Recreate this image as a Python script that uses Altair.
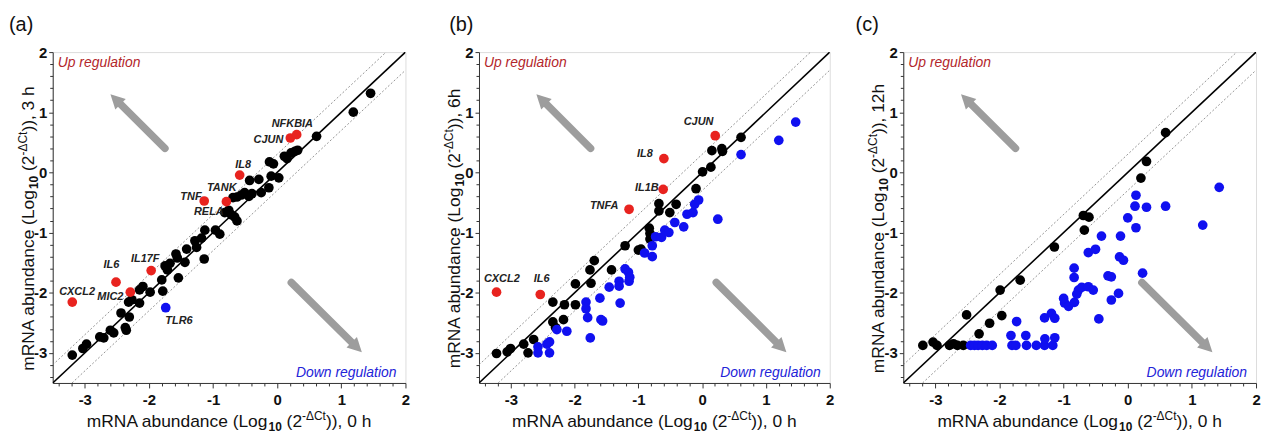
import math
import altair as alt
import pandas as pd

FONT = "Liberation Sans"

# ---------------- data ----------------
PANEL_TAGS = ["(a)", "(b)", "(c)"]
Y_TIMES = ["3 h", "6h", "12h"]
X_TIME = "0 h"

# Panel (a): 0 h (x) vs 3 h (y)
a_black_x = [-3.195, -3.03, -2.973, -2.766, -2.704, -2.601, -2.549, -2.368, -2.353, -2.435,
             -2.306, -2.317, -2.265, -2.146, -2.146, -2.094, -1.981, -1.784, -1.80, -1.541,
             -1.712, -1.748, -1.671, -1.578, -1.557, -1.438, -1.412, -1.283, -1.257, -1.18,
             -1.128, -1.138, -0.963, -0.895, -0.818, -0.756, -0.714, -0.663, -0.627, -0.689,
             -0.627, -0.559, -0.508, -0.441, -0.394, -0.43, -0.286, -0.249, -0.13, -0.094,
             -0.12, -0.058, 0.025, 0.112, 0.154, 0.216, 0.278, 0.319, 0.614, 1.187,
             1.456]
a_black_y = [-3.037, -2.927, -2.855, -2.734, -2.751, -2.624, -2.668, -2.58, -2.624, -2.337,
             -2.404, -2.156, -2.117, -2.172, -1.952, -1.897, -1.99, -1.974, -1.787, -1.753,
             -1.621, -1.555, -1.511, -1.357, -1.423, -1.494, -1.274, -1.136, -1.247, -1.092,
             -0.96, -1.439, -0.96, -1.026, -0.668, -0.629, -0.707, -0.74, -0.806, -0.42,
             -0.409, -0.376, -0.337, -0.398, -0.354, -0.134, -0.117, -0.337, -0.255, -0.062,
             0.175, 0.142, -0.09, 0.269, 0.23, 0.324, 0.351, 0.368, 0.599, 1.001,
             1.315]
a_red_gene = ["CXCL2", "IL6", "MIC2", "IL17F", "TNF", "TANK", "IL8", "CJUN", "NFKBIA"]
a_red_x = [-3.195, -2.513, -2.29, -1.965, -1.138, -0.792, -0.585, 0.205, 0.304]
a_red_y = [-2.156, -1.825, -1.99, -1.632, -0.475, -0.486, -0.045, 0.572, 0.627]
a_blue_gene = ["TLR6"]
a_blue_x = [-1.738]
a_blue_y = [-2.249]
a_label_gene = ["NFKBIA", "CJUN", "IL8", "TANK", "TNF", "RELA", "IL17F", "IL6", "CXCL2", "MIC2", "TLR6"]
a_label_x = [0.236, -0.136, -0.531, -0.864, -1.345, -1.066, -2.058, -2.585, -3.12, -2.601, -1.531]
a_label_y = [0.798, 0.533, 0.12, -0.26, -0.409, -0.657, -1.434, -1.533, -1.996, -2.079, -2.475]

# Panel (b): 0 h (x) vs 6 h (y)
b_black_x = [-3.225, -3.058, -3.006, -2.799, -2.731, -2.643, -2.342, -2.3, -2.175, -2.342,
             -2.16, -1.988, -1.988, -1.744, -1.76, -1.692, -1.422, -1.209, -1.001, -0.96,
             -0.83, -0.819, -0.819, -0.679, -0.679, -0.508, -0.409, -0.097, 0.006, 0.136,
             0.152, 0.308, 0.318, 0.609]
b_black_y = [-3.01, -2.982, -2.927, -2.855, -2.999, -2.778, -2.486, -2.58, -2.448, -2.156,
             -2.2, -2.2, -1.853, -1.842, -1.621, -1.467, -1.621, -1.219, -1.291, -1.274,
             -0.927, -1.015, -1.109, -0.519, -0.64, -0.668, -0.53, -0.271, 0.01, 0.087,
             0.362, 0.395, 0.351, 0.583]
b_blue_x = [-2.575, -2.575, -2.435, -2.394, -2.394, -2.279, -2.123, -1.822, -1.822, -1.796,
            -1.755, -1.604, -1.588, -1.562, -1.458, -1.303, -1.303, -1.287, -1.209, -1.157,
            -1.136, -1.147, -0.903, -0.783, -0.783, -0.731, -0.638, -0.586, -0.523, -0.43,
            -0.29, -0.238, -0.144, -0.118, -0.056, 0.245, 0.609, 1.201, 1.466]
b_blue_y = [-2.899, -2.999, -2.855, -2.999, -2.817, -2.613, -2.64, -2.156, -2.266, -2.415,
            -2.751, -2.09, -2.448, -2.47, -1.908, -1.809, -1.891, -2.172, -1.605, -1.66,
            -1.742, -1.809, -1.34, -1.219, -1.401, -1.07, -1.081, -0.96, -0.999, -0.833,
            -0.905, -0.696, -0.668, -0.53, -0.459, -0.778, 0.296, 0.533, 0.836]
b_red_gene = ["CXCL2", "IL6", "TNFA", "IL1B", "IL8", "CJUN"]
b_red_x = [-3.225, -2.539, -1.147, -0.612, -0.601, 0.204]
b_red_y = [-1.99, -2.029, -0.613, -0.282, 0.23, 0.61]
b_label_gene = ["CJUN", "IL8", "IL1B", "TNFA", "CXCL2", "IL6"]
b_label_x = [-0.057, -0.898, -0.867, -1.537, -3.142, -2.518]
b_label_y = [0.831, 0.302, -0.26, -0.558, -1.764, -1.764]

# Panel (c): 0 h (x) vs 12 h (y)
c_black_x = [-3.195, -3.036, -2.974, -2.779, -2.718, -2.656, -2.564, -2.513, -2.318, -2.154,
             -1.964, -1.99, -1.677, -1.144, -0.692, -0.677, -0.605, 0.205, 0.292, 0.59]
c_black_y = [-2.876, -2.821, -2.876, -2.876, -2.848, -2.876, -2.876, -2.369, -2.683, -2.507,
             -2.38, -1.956, -1.791, -1.24, -0.716, -0.959, -0.744, -0.094, 0.182, 0.661]
c_blue_x = [-2.45, -2.39, -2.333, -2.267, -2.2, -2.113, -1.805, -1.744, -1.579, -1.426,
            -1.297, -1.169, -1.821, -1.59, -1.292, -1.138, -1.733, -1.297, -1.19, -1.138,
            -0.985, -1.0, -0.923, -0.831, -0.836, -0.836, -0.795, -0.769, -0.718, -0.615,
            -0.615, -0.538, -0.503, -0.451, -0.41, -0.308, -0.256, -0.256, -0.144, -0.113,
            -0.128, -0.067, 0.0, 0.113, 0.128, 0.128, 0.292, 0.231, 0.59, 1.169,
            1.426]
c_blue_y = [-2.876, -2.876, -2.876, -2.876, -2.876, -2.876, -2.876, -2.876, -2.876, -2.876,
            -2.876, -2.876, -2.711, -2.711, -2.766, -2.749, -2.479, -2.419, -2.342, -2.424,
            -2.171, -2.094, -2.226, -2.16, -1.592, -1.747, -2.022, -1.956, -1.912, -1.333,
            -1.901, -1.956, -1.278, -2.435, -1.058, -1.719, -1.736, -2.121, -2.011, -1.058,
            -1.405, -1.46, -0.755, -0.562, -0.38, -0.92, -0.579, -1.675, -0.562, -0.876,
            -0.248]

# arrows (data units): tail -> tip
arrow_tail_x = [-1.75, 0.22]
arrow_tail_y = [0.40, -1.83]
arrow_tip_x = [-2.60, 1.32]
arrow_tip_y = [1.30, -2.99]

# ---------------- layout / style ----------------
W = [355, 353, 355]
H = 333
DOM = [-3.5, 2.0]
FOLD = math.log10(2)
TAG_DX = [-44, -30, -48]
TICKS = [round(-3.4 + 0.2 * k, 1) for k in range(28)]
IS_MAJOR = "abs(datum.value - round(datum.value)) < 0.001"

REG = {" ": 278, "(": 333, ")": 333, ",": 278, "-": 333, "A": 667, "C": 722, "L": 556,
       "M": 833, "N": 722, "R": 722, "a": 556, "b": 556, "c": 500, "d": 556, "e": 556,
       "g": 556, "h": 556, "n": 556, "o": 556, "t": 278, "u": 556, "Δ": 668}
BOLD = dict(REG)
BOLD.update({"A": 722, "L": 611, "b": 611, "d": 611, "g": 611, "h": 611, "n": 611,
             "o": 611, "t": 333, "u": 611, "c": 556})


def text_width(s, size, bold):
    tab = BOLD if bold else REG
    return sum(tab.get(ch, 556) for ch in s) * size / 1000.0


T_MAIN, T_SMALL = 17.5, 12


def title_pieces(time_label):
    return [("mRNA abundance (Log ", T_MAIN, False, 0),
            ("10", T_SMALL, True, 4),
            (" (2", T_MAIN, False, 0),
            ("-ΔCt", T_SMALL, False, -7),
            (")), " + time_label, T_MAIN, False, 0)]


def make_axis(pad, major):
    return alt.Axis(values=TICKS, title=None, grid=False,
                    labelExpr=f"{IS_MAJOR} ? '' + round(datum.value) : ''",
                    tickSize={"condition": {"test": IS_MAJOR, "value": major}, "value": 3},
                    labelFont=FONT, labelFontSize=15, labelFontWeight="bold",
                    labelColor="#111", labelPadding=pad, labelFlush=False,
                    labelOverlap=False, domainColor="#333", tickColor="#333",
                    domainWidth=1, tickWidth=1)


def title_layers(w, time_label, rotated):
    pieces = title_pieces(time_label)
    total = sum(text_width(t, s, b) for t, s, b, _ in pieces)
    layers = []
    cum = 0.0
    for t, s, b, shift in pieces:
        lead = len(t) - len(t.lstrip(" "))
        off = cum + lead * REG[" "] * s / 1000.0
        df = pd.DataFrame({"t": [t.strip(" ")]})
        if rotated:
            ax, ay = -19, H / 2 + 11 + total / 2
            mk = alt.Chart(df).mark_text(align="left", baseline="alphabetic", angle=270,
                                         dx=off, dy=shift, font=FONT, fontSize=s,
                                         fontWeight="bold" if b else "normal", color="#111")
        else:
            ax, ay = w / 2 - total / 2, H + 44
            mk = alt.Chart(df).mark_text(align="left", baseline="alphabetic",
                                         dx=off, dy=shift, font=FONT, fontSize=s,
                                         fontWeight="bold" if b else "normal", color="#111")
        layers.append(mk.encode(x=alt.value(ax), y=alt.value(ay), text="t:N"))
        cum += text_width(t, s, b)
    return layers


def make_panel(i, black, blue, red, labels):
    w = W[i]
    sx, sy = w / 5.5, H / 5.5
    xs = alt.Scale(domain=DOM, nice=False, zero=False)
    ys = alt.Scale(domain=DOM, nice=False, zero=False)
    xa, ya = make_axis(5, 5), make_axis(2, 4)

    def XY(df):
        return dict(x=alt.X("x:Q", scale=xs, axis=xa), y=alt.Y("y:Q", scale=ys, axis=ya))

    solid = pd.DataFrame({"x": DOM, "y": DOM})
    up = pd.DataFrame({"x": [DOM[0], DOM[1] - FOLD], "y": [DOM[0] + FOLD, DOM[1]]})
    dn = pd.DataFrame({"x": [DOM[0] + FOLD, DOM[1]], "y": [DOM[0], DOM[1] - FOLD]})
    layers = [
        alt.Chart(up).mark_line(color="#7a7a7a", strokeWidth=0.8, strokeDash=[2, 2], clip=True).encode(**XY(up)),
        alt.Chart(dn).mark_line(color="#7a7a7a", strokeWidth=0.8, strokeDash=[2, 2], clip=True).encode(**XY(dn)),
        alt.Chart(solid).mark_line(color="#000", strokeWidth=1.6, clip=True).encode(**XY(solid)),
    ]

    # arrows
    rows = []
    for tx, ty, px, py in zip(arrow_tail_x, arrow_tail_y, arrow_tip_x, arrow_tip_y):
        dxp, dyp = (px - tx) * sx, -(py - ty) * sy
        L = math.hypot(dxp, dyp)
        ux, uy = dxp / L, dyp / L
        ex, ey = px - 10 * ux / sx, py + 10 * uy / sy
        ang = math.degrees(math.atan2(ux, -uy)) % 360
        rows.append({"x": tx, "y": ty, "x2": ex, "y2": ey, "hx": px, "hy": py, "ang": ang})
    arr = pd.DataFrame(rows)
    layers.append(alt.Chart(arr).mark_rule(color="#9d9d9d", strokeWidth=7.5, strokeCap="round").encode(
        x=alt.X("x:Q", scale=xs, axis=xa), y=alt.Y("y:Q", scale=ys, axis=ya), x2="x2:Q", y2="y2:Q"))
    layers.append(alt.Chart(arr).mark_point(shape="M0,0L0.52,1L-0.52,1Z", filled=True, opacity=1,
                                            size=820, color="#9d9d9d", strokeWidth=0).encode(
        x=alt.X("hx:Q", scale=xs, axis=xa), y=alt.Y("hy:Q", scale=ys, axis=ya),
        angle=alt.Angle("ang:Q", scale=None)))

    # points
    frames = []
    for grp, (gx, gy) in (("black", black), ("blue", blue), ("red", red)):
        frames.append(pd.DataFrame({"x": gx, "y": gy, "grp": grp}))
    pts = pd.concat(frames, ignore_index=True)
    layers.append(alt.Chart(pts).mark_circle(size=95, opacity=1).encode(
        **XY(pts),
        color=alt.Color("grp:N", legend=None,
                        scale=alt.Scale(domain=["black", "blue", "red"],
                                        range=["#000000", "#1010f0", "#e8231f"]))))

    if labels is not None:
        lg, lx, ly = labels
        ldf = pd.DataFrame({"x": lx, "y": ly, "g": lg})
        layers.append(alt.Chart(ldf).mark_text(font=FONT, fontSize=11, fontStyle="italic",
                                               fontWeight="bold", color="#222",
                                               align="center", baseline="middle").encode(
            **XY(ldf), text="g:N"))

    # annotations
    one = pd.DataFrame({"t": ["Up regulation"]})
    layers.append(alt.Chart(one).mark_text(font=FONT, fontSize=14, fontStyle="italic", color="#b3262b",
                                           align="left", baseline="alphabetic").encode(
        x=alt.value(5), y=alt.value(15), text="t:N"))
    two = pd.DataFrame({"t": ["Down regulation"]})
    layers.append(alt.Chart(two).mark_text(font=FONT, fontSize=14, fontStyle="italic", color="#2323d8",
                                           align="right", baseline="alphabetic").encode(
        x=alt.value(w - 9), y=alt.value(H - 6), text="t:N"))
    tag = pd.DataFrame({"t": [PANEL_TAGS[i]]})
    layers.append(alt.Chart(tag).mark_text(font=FONT, fontSize=20, color="#111",
                                           align="left", baseline="alphabetic").encode(
        x=alt.value(TAG_DX[i]), y=alt.value(-21), text="t:N"))

    layers += title_layers(w, X_TIME, rotated=False)
    layers += title_layers(w, Y_TIMES[i], rotated=True)

    return alt.layer(*layers).properties(width=w, height=H)


pa = make_panel(0, (a_black_x, a_black_y), (a_blue_x, a_blue_y), (a_red_x, a_red_y),
                (a_label_gene, a_label_x, a_label_y))
pb = make_panel(1, (b_black_x, b_black_y), (b_blue_x, b_blue_y), (b_red_x, b_red_y),
                (b_label_gene, b_label_x, b_label_y))
pc = make_panel(2, (c_black_x, c_black_y), (c_blue_x, c_blue_y), ([], []), None)

chart = alt.hconcat(pa, pb, pc, spacing=74, bounds="flush").properties(
    padding={"left": 0, "top": 5, "right": 0, "bottom": 0}
).configure_view(stroke="#8a8a8a", strokeWidth=1).configure(background="white")

chart.save("out.html", embed_options={"renderer": "svg", "actions": False})
